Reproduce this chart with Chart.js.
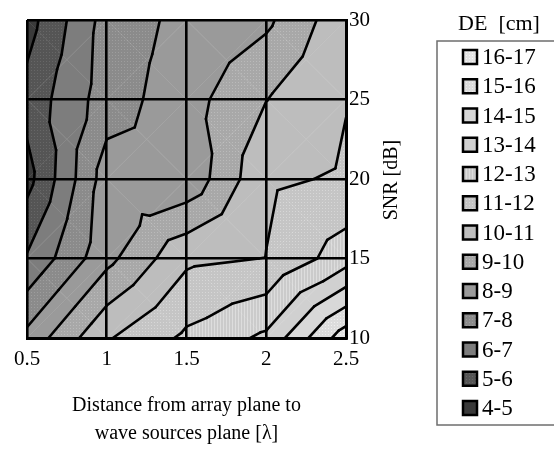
<!DOCTYPE html>
<html lang="en">
<head>
  <meta charset="UTF-8">
  <title>DE contour</title>
  <script src="https://cdn.jsdelivr.net/npm/chart.js"></script>
  <style>
    html, body { margin: 0; padding: 0; background: #fff; }
  </style>
</head>
<body>
  <canvas id="deChart" width="554" height="452"></canvas>

  <script>
    // grid: columns = distance, rows = SNR
    const distance = [0.5, 1, 1.5, 2, 2.5];
    const snr = [10, 15, 20, 25, 30];
    const deSnr10 = [8.3, 10.9, 12.2, 13.2, 16.6];
    const deSnr15 = [6.1, 8.7, 10.8, 11.02, 12.55];
    const deSnr20 = [4.65, 8.5, 8.25, 10.85, 11.1];
    const deSnr25 = [5.35, 7.5, 8.6, 9.98, 10.97];
    const deSnr30 = [4.6, 7.4, 8.3, 8.8, 10.7];
    const deRows = [deSnr10, deSnr15, deSnr20, deSnr25, deSnr30];

    const levels = [4, 5, 6, 7, 8, 9, 10, 11, 12, 13, 14, 15, 16, 17];
    const bandLabels = ["4-5", "5-6", "6-7", "7-8", "8-9", "9-10", "10-11",
      "11-12", "12-13", "13-14", "14-15", "15-16", "16-17"];
    const bandColors = ["#3a3a3a", "#555555", "#7d7d7d", "#8b8b8b", "#9a9a9a", "#a8a8a8",
      "#bdbdbd", "#c5c5c5", "#cbcbcb", "#d0d0d0", "#d8d8d8", "#dcdcdc", "#e3e3e3"];
    // which bands have a fine dot / stripe texture
    const bandTexture = ["", "dot", "", "dot", "", "dot", "", "dot", "stripe", "", "", "dot", "dot"];

    const serif = "'Liberation Serif', 'DejaVu Serif', serif";

    function shade(hex, d) {
      const n = parseInt(hex.slice(1), 16);
      const c = [n >> 16, (n >> 8) & 255, n & 255].map(v => Math.max(0, Math.min(255, v + d)));
      return "rgb(" + c.join(",") + ")";
    }

    function makeFill(ctx, b) {
      const tex = bandTexture[b];
      if (!tex) return bandColors[b];
      const tile = document.createElement("canvas");
      tile.width = 3; tile.height = 3;
      const t = tile.getContext("2d");
      t.fillStyle = bandColors[b];
      t.fillRect(0, 0, 3, 3);
      t.fillStyle = shade(bandColors[b], 18);
      if (tex === "dot") t.fillRect(1, 1, 1, 1);
      else t.fillRect(1, 0, 1, 3);
      return ctx.createPattern(tile, "repeat");
    }

    // each cell is split in 4 triangles around its centre
    function triangles() {
      const tris = [];
      for (let j = 0; j < snr.length - 1; j++) {
        for (let i = 0; i < distance.length - 1; i++) {
          const a = [distance[i], snr[j], deRows[j][i]];
          const b = [distance[i + 1], snr[j], deRows[j][i + 1]];
          const c = [distance[i + 1], snr[j + 1], deRows[j + 1][i + 1]];
          const d = [distance[i], snr[j + 1], deRows[j + 1][i]];
          const m = [(a[0] + b[0]) / 2, (a[1] + d[1]) / 2, (a[2] + b[2] + c[2] + d[2]) / 4];
          tris.push([m, a, b], [m, b, c], [m, c, d], [m, d, a]);
        }
      }
      return tris;
    }

    function clip(poly, level, above) {
      const out = [];
      for (let k = 0; k < poly.length; k++) {
        const p = poly[k], q = poly[(k + 1) % poly.length];
        const pin = above ? p[2] >= level : p[2] <= level;
        const qin = above ? q[2] >= level : q[2] <= level;
        if (pin) out.push(p);
        if (pin !== qin) {
          const t = (level - p[2]) / (q[2] - p[2]);
          out.push([p[0] + t * (q[0] - p[0]), p[1] + t * (q[1] - p[1]), level]);
        }
      }
      return out;
    }

    const contourPlugin = {
      id: "contour",
      beforeDraw(chart) {
        const { ctx, chartArea, scales } = chart;
        const px = p => [scales.x.getPixelForValue(p[0]), scales.y.getPixelForValue(p[1])];
        const tris = triangles();
        ctx.save();
        ctx.beginPath();
        ctx.rect(chartArea.left, chartArea.top, chartArea.width, chartArea.height);
        ctx.clip();
        // filled bands
        for (let b = 0; b < levels.length - 1; b++) {
          const fill = makeFill(ctx, b);
          ctx.fillStyle = fill;
          ctx.strokeStyle = fill;
          ctx.lineWidth = 0.8;
          tris.forEach(t => {
            let poly = clip(t, levels[b], true);
            if (poly.length < 3) return;
            poly = clip(poly, levels[b + 1], false);
            if (poly.length < 3) return;
            ctx.beginPath();
            poly.forEach((p, k) => {
              const [x, y] = px(p);
              k ? ctx.lineTo(x, y) : ctx.moveTo(x, y);
            });
            ctx.closePath();
            ctx.fill();
            ctx.stroke();
          });
        }
        // faint cell diagonals
        ctx.strokeStyle = "rgba(255,255,255,0.12)";
        ctx.lineWidth = 0.7;
        for (let j = 0; j < snr.length - 1; j++) {
          for (let i = 0; i < distance.length - 1; i++) {
            const [x0, y0] = px([distance[i], snr[j]]);
            const [x1, y1] = px([distance[i + 1], snr[j + 1]]);
            ctx.beginPath();
            ctx.moveTo(x0, y0); ctx.lineTo(x1, y1);
            ctx.moveTo(x0, y1); ctx.lineTo(x1, y0);
            ctx.stroke();
          }
        }
        // contour lines
        ctx.strokeStyle = "#000";
        ctx.lineWidth = 2.6;
        ctx.lineCap = "round";
        ctx.lineJoin = "round";
        levels.forEach(lv => {
          tris.forEach(t => {
            const pts = [];
            for (let k = 0; k < 3; k++) {
              const p = t[k], q = t[(k + 1) % 3];
              if ((p[2] >= lv) !== (q[2] >= lv)) {
                const s = (lv - p[2]) / (q[2] - p[2]);
                pts.push([p[0] + s * (q[0] - p[0]), p[1] + s * (q[1] - p[1])]);
              }
            }
            if (pts.length === 2) {
              const [x1, y1] = px(pts[0]), [x2, y2] = px(pts[1]);
              ctx.beginPath();
              ctx.moveTo(x1, y1);
              ctx.lineTo(x2, y2);
              ctx.stroke();
            }
          });
        });
        ctx.restore();
      },
      afterDraw(chart) {
        const ctx = chart.ctx;
        ctx.save();
        // y axis title, reading upwards
        ctx.fillStyle = "#000";
        ctx.font = "20px " + serif;
        ctx.textAlign = "center";
        ctx.textBaseline = "middle";
        ctx.translate(392, 180);
        ctx.rotate(-Math.PI / 2);
        ctx.fillText("SNR [dB]", 0, 0);
        ctx.restore();

        // legend box
        ctx.save();
        ctx.strokeStyle = "#6e6e6e";
        ctx.lineWidth = 1.5;
        ctx.strokeRect(437, 41, 130, 384);
        ctx.fillStyle = "#000";
        ctx.font = "22px " + serif;
        ctx.textAlign = "center";
        ctx.textBaseline = "middle";
        ctx.fillText("DE  [cm]", 499, 24);
        ctx.textAlign = "left";
        ctx.font = "23px " + serif;
        for (let k = 0; k < bandLabels.length; k++) {
          const b = bandLabels.length - 1 - k;
          const y = 57 + k * 29.25;
          ctx.fillStyle = makeFill(ctx, b);
          ctx.fillRect(463, y - 7, 14, 14);
          ctx.strokeStyle = "#000";
          ctx.lineWidth = 2.5;
          ctx.strokeRect(463, y - 7, 14, 14);
          ctx.fillStyle = "#000";
          ctx.fillText(bandLabels[b], 482, y + 1);
        }
        ctx.restore();
      }
    };

    const nodes = [];
    snr.forEach((s, j) => distance.forEach((d, i) => nodes.push({ x: d, y: s, v: deRows[j][i] })));

    new Chart(document.getElementById("deChart"), {
      type: "scatter",
      data: {
        datasets: [{ label: "DE", data: nodes, pointRadius: 0 }]
      },
      options: {
        responsive: false,
        animation: false,
        layout: { padding: { left: 27, top: 20, right: 168, bottom: 0 } },
        plugins: { legend: { display: false }, tooltip: { enabled: false } },
        scales: {
          x: {
            type: "linear", min: 0.5, max: 2.5,
            afterFit: s => { s.height = 114; },
            ticks: {
              stepSize: 0.5, color: "#000", padding: 9, font: { family: serif, size: 21 },
              callback: v => String(v)
            },
            grid: { color: "#000", lineWidth: 2.6, drawTicks: false },
            border: { color: "#000", width: 3 },
            title: {
              display: true, color: "#000",
              text: ["Distance from array plane to", "wave sources plane [λ]"],
              font: { family: serif, size: 20, lineHeight: 1.4 },
              padding: { top: 0, bottom: 4 }
            }
          },
          y: {
            type: "linear", position: "right", min: 10, max: 30,
            afterFit: s => { s.width = 40; },
            ticks: { stepSize: 5, color: "#000", padding: 3, font: { family: serif, size: 21 } },
            grid: { color: "#000", lineWidth: 2.6, drawTicks: false },
            border: { color: "#000", width: 3 }
          }
        }
      },
      plugins: [contourPlugin]
    });
  </script>
</body>
</html>
